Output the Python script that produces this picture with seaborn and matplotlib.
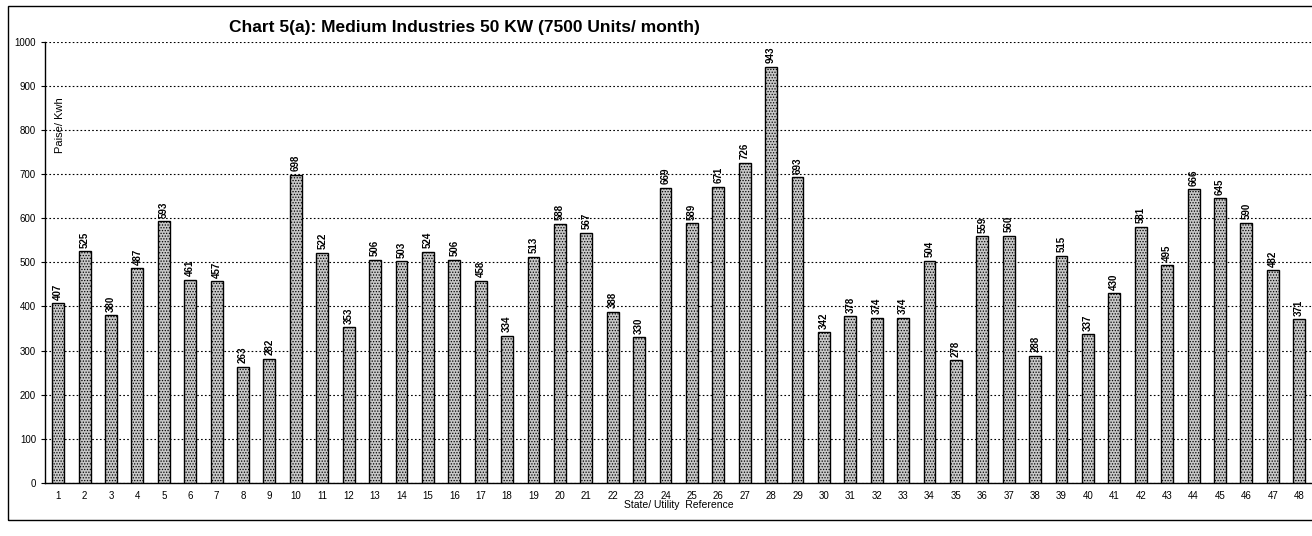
import pandas as pd
import matplotlib
matplotlib.use("Agg")
import matplotlib.pyplot as plt
import seaborn as sns
from matplotlib.patches import Rectangle

# Values (Paise/Kwh)
refs = [str(i) for i in range(1, 49)]
tariff = [407, 525, 380, 487, 593, 461, 457, 263, 282, 698,
          522, 353, 506, 503, 524, 506, 458, 334, 513, 588,
          567, 388, 330, 669, 589, 671, 726, 943, 693, 342,
          378, 374, 374, 504, 278, 559, 560, 288, 515, 337,
          430, 581, 495, 666, 645, 590, 482, 371]

df = pd.DataFrame({"ref": refs, "tariff": tariff})

sns.set_style("white")
plt.rcParams['font.family'] = ['Liberation Sans', 'DejaVu Sans']
plt.rcParams['text.color'] = 'black'
plt.rcParams['axes.labelcolor'] = 'black'
plt.rcParams['xtick.color'] = 'black'
plt.rcParams['ytick.color'] = 'black'
plt.rcParams['hatch.color'] = '#8a8a8a'
plt.rcParams['hatch.linewidth'] = 0.6

fig = plt.figure(figsize=(13.12, 5.36), dpi=100)
ax = fig.add_axes([0.0343, 0.099, 0.966, 0.823])

sns.barplot(data=df, x="ref", y="tariff", color="#c8c8c8", width=0.45,
            edgecolor="black", linewidth=1.0, saturation=1, ax=ax, zorder=3)
for bar in ax.patches:
    bar.set_hatch("......")

# value labels on top of each bar
for i, v in enumerate(tariff):
    ax.text(i, v + 8, str(v), rotation=90, ha="center", va="bottom",
            fontsize=7, fontweight="bold")

ax.set_ylim(0, 1000)
ax.set_xlim(-0.5, 47.5)
ax.set_yticks(range(0, 1001, 100))
ax.yaxis.grid(True, color="black", linestyle=(0, (1.5, 2)), linewidth=0.8)
ax.set_axisbelow(True)
ax.tick_params(axis="y", labelsize=7, length=3, direction="out", left=True)
ax.tick_params(axis="x", labelsize=7, length=0, pad=6)

for side in ["top", "right"]:
    ax.spines[side].set_visible(False)
ax.spines["left"].set_linewidth(1.0)
ax.spines["left"].set_color("black")
ax.spines["bottom"].set_linewidth(1.0)
ax.spines["bottom"].set_color("black")

ax.set_xlabel("State/ Utility  Reference", fontsize=7.5, labelpad=-1)
ax.set_ylabel("")
ax.text(0.012, 0.81, "Paise/ Kwh", rotation=90, transform=ax.transAxes,
        ha="center", va="center", fontsize=8)

fig.text(0.354, 0.948, "Chart 5(a): Medium Industries 50 KW (7500 Units/ month)",
         ha="center", va="center", fontsize=12.5, fontweight="bold")

# frame around the chart area like the scanned page
fig.patches.append(Rectangle((0.006, 0.03), 1.0, 0.958, transform=fig.transFigure,
                             fill=False, edgecolor="black", linewidth=1.0))

fig.savefig("out.png", dpi=100)
